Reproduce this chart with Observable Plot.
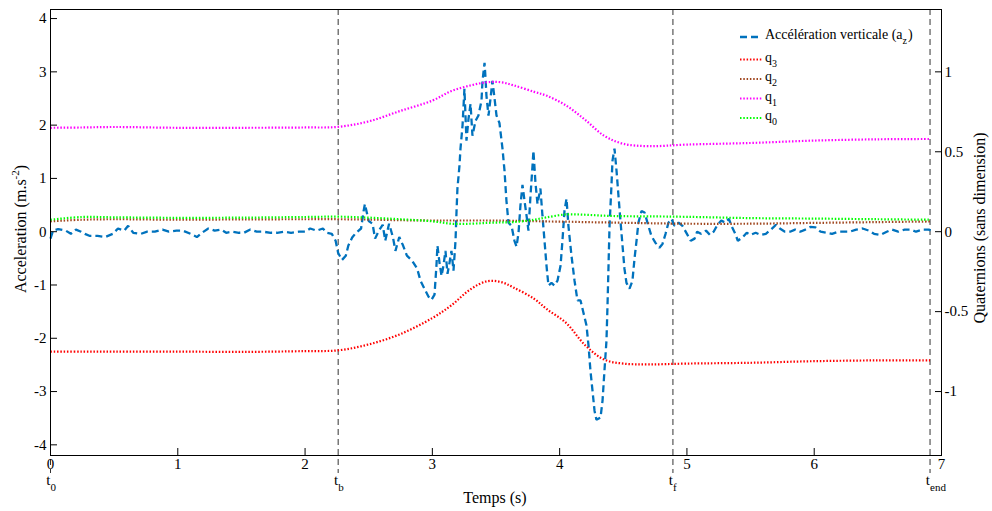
<!DOCTYPE html>
<html><head><meta charset="utf-8">
<script src="https://cdn.jsdelivr.net/npm/d3@7"></script>
<script src="https://cdn.jsdelivr.net/npm/@observablehq/plot@0.6"></script>
<style>
html,body{margin:0;padding:0;background:#fff;}
#chart svg{display:block;}
</style>
</head><body><div id="chart"></div>
<script>
// Vertical acceleration a_z (m.s^-2)
const time = [0,0.02,0.06,0.12,0.16,0.2,0.24,0.27,0.31,0.37,0.43,0.49,0.53,0.58,0.61,0.65,0.71,0.76,0.82,0.88,0.93,0.99,1.04,1.10,1.15,1.19,1.24,1.29,1.34,1.38,1.43,1.48,1.52,1.57,1.62,1.67,1.73,1.78,1.84,1.89,1.95,2.0,2.04,2.09,2.14,2.17,2.21,2.24,2.26,2.29,2.32,2.34,2.37,2.40,2.44,2.46,2.47,2.50,2.53,2.55,2.58,2.61,2.63,2.66,2.69,2.71,2.74,2.77,2.80,2.84,2.88,
  2.907,2.938,2.970,2.993,3.017,3.032,3.040,3.056,3.072,3.087,3.103,3.119,3.135,3.150,3.166,
  3.182,3.190,3.197,3.213,3.221,3.237,3.245,3.252,3.268,3.284,3.300,3.315,3.339,3.362,3.386,3.394,3.410,3.417,3.425,3.441,3.457,3.472,3.488,3.504,3.527,3.551,3.567,3.582,3.598,3.622,3.645,3.661,3.677,3.692,3.708,3.724,3.740,3.755,3.771,3.787,3.794,3.810,3.826,3.849,3.865,3.881,3.897,3.912,3.936,3.959,3.983,4.007,4.022,4.038,4.054,4.069,4.093,4.117,4.140,4.164,4.187,4.211,4.227,4.242,4.258,4.274,4.289,4.321,4.337,4.352,4.368,4.376,4.384,4.392,4.407,4.415,4.431,4.447,4.462,4.478,4.494,4.509,4.525,4.549,4.572,4.588,4.604,4.619,4.643,4.667,4.690,4.721,4.753,4.784,4.808,4.832,4.855,4.879,4.902,4.934,4.965,
  5.00,5.03,5.06,5.08,5.11,5.15,5.18,5.21,5.24,5.27,5.30,5.33,5.35,5.38,5.40,5.44,5.47,5.50,5.54,5.58,5.62,5.66,5.70,5.73,5.77,5.81,5.85,5.89,5.93,5.97,6.01,6.05,6.10,6.14,6.19,6.24,6.28,6.33,6.38,6.43,6.47,6.52,6.57,6.61,6.66,6.71,6.76,6.80,6.85,6.90,6.92];
const accel = [-0.13,0.02,0.05,0.02,-0.04,0.04,0.0,-0.04,-0.08,-0.08,-0.1,-0.04,0.06,0.02,0.11,-0.02,-0.04,0.0,0.0,0.04,0.0,0.02,0.02,-0.04,-0.1,-0.02,0.06,0.02,0.04,-0.02,0.0,-0.02,-0.02,0.04,0.0,0.0,-0.02,-0.02,0.0,-0.02,0.0,0.0,0.06,0.02,0.06,-0.02,-0.04,-0.17,-0.4,-0.53,-0.45,-0.26,-0.11,-0.02,0.06,0.39,0.52,0.2,0.15,-0.13,0.02,0.13,-0.17,0.15,-0.1,-0.36,-0.1,-0.26,-0.45,-0.54,-0.69,
  -0.92,-1.07,-1.22,-1.28,-1.18,-0.64,-0.26,-0.58,-0.83,-0.64,-0.36,-0.79,-0.58,-0.36,-0.73,
  -0.17,0.39,0.81,1.24,1.56,1.99,2.36,2.68,1.71,2.12,2.4,1.8,2.08,2.18,2.46,2.83,3.17,2.91,2.55,2.18,2.5,2.83,2.51,2.18,2.04,1.56,1.14,0.58,0.17,0.11,-0.17,-0.28,-0.02,0.49,0.88,0.58,0.3,0.02,0.68,1.24,1.52,0.92,0.52,0.81,0.3,-0.17,-0.64,-1.01,-0.96,-1.01,-0.92,-0.64,-0.17,0.39,0.62,0.11,-0.45,-0.92,-1.29,-1.29,-1.52,-1.76,-2.14,-2.61,-2.98,-3.36,-3.53,-3.49,-3.17,-2.61,-2.04,-1.39,-0.64,0.11,0.86,1.33,1.56,1.14,0.68,0.2,-0.26,-0.69,-0.96,-1.07,-0.92,-0.51,-0.17,0.17,0.39,0.36,0.17,-0.08,-0.21,-0.3,-0.23,-0.04,0.17,0.24,0.11,0.17,0.11,
  -0.04,-0.17,-0.13,0.0,-0.04,0.02,-0.06,0.0,0.13,0.21,0.17,0.24,0.11,-0.04,-0.17,-0.1,-0.02,-0.06,-0.02,-0.06,-0.04,0.04,0.13,0.06,0.0,0.0,0.04,0.0,0.04,0.09,0.08,0.0,-0.02,-0.04,0.0,0.0,0.0,0.04,0.06,0.02,-0.04,-0.06,0.0,0.04,0.0,0.04,0.04,0.0,0.04,0.04,0.02];

// Quaternions (dimensionless)
const qTime = [0,0.25,0.5,1,1.5,2,2.26,2.5,2.75,3.0,3.15,3.3,3.43,3.54,3.64,3.8,3.9,4.05,4.2,4.35,4.5,4.7,5.0,5.5,6.0,6.5,6.91];
const q0 = [0.075,0.092,0.09,0.087,0.088,0.092,0.094,0.088,0.078,0.065,0.05,0.05,0.055,0.058,0.06,0.075,0.09,0.108,0.106,0.1,0.097,0.096,0.093,0.085,0.082,0.078,0.075];
const q1 = [0.65,0.652,0.655,0.65,0.65,0.652,0.656,0.69,0.756,0.82,0.88,0.915,0.935,0.935,0.915,0.875,0.85,0.79,0.7,0.6,0.55,0.535,0.545,0.555,0.57,0.578,0.58];
const q2 = [0.065,0.075,0.078,0.075,0.077,0.078,0.078,0.076,0.072,0.07,0.07,0.07,0.07,0.069,0.068,0.066,0.064,0.063,0.06,0.058,0.056,0.053,0.05,0.05,0.055,0.06,0.064];
const q3 = [-0.75,-0.75,-0.75,-0.75,-0.752,-0.747,-0.742,-0.705,-0.64,-0.54,-0.46,-0.36,-0.31,-0.315,-0.35,-0.42,-0.485,-0.57,-0.71,-0.8,-0.825,-0.83,-0.825,-0.82,-0.81,-0.805,-0.805];

// Event markers
const markerTimes = [0, 2.26, 4.89, 6.91];
const markerSubs = ["0", "b", "f", "end"];

// Ticks
const xTicks = [0,1,2,3,4,5,6,7];
const yTicks = [-4,-3,-2,-1,0,1,2,3,4];
const qTicks = [-1,-0.5,0,0.5,1];
const qScale = 3; // right axis: 1 quaternion unit = 3 m.s^-2 on the left axis

const FONT = "'Liberation Serif', 'Times New Roman', serif";
const blue = "#0072BD";
const DOT = "1.5,1.8";
const DASH = "7,4";
const series = [
  {name: "q3", values: q3, color: "#ff0000"},
  {name: "q2", values: q2, color: "#a0461e"},
  {name: "q1", values: q1, color: "#ff00ff"},
  {name: "q0", values: q0, color: "#00ff00"}
];

const chart = Plot.plot({
  width: 992, height: 511,
  marginLeft: 50, marginRight: 51, marginTop: 9, marginBottom: 56,
  style: {fontFamily: FONT, fontSize: "15px", background: "#fff", color: "#000"},
  x: {domain: [0, 7]},
  y: {domain: [-4.2, 4.17]},
  marks: [
    Plot.ruleX(markerTimes, {x: d => d, stroke: "#333", strokeWidth: 1, strokeDasharray: "6,4", insetBottom: -18}),
    Plot.line(time, {x: time, y: accel, stroke: blue, strokeWidth: 2.3, strokeDasharray: DASH, strokeLinecap: "butt", strokeLinejoin: "miter"}),
    ...series.map(s => Plot.line(qTime, {x: qTime, y: s.values.map(v => v * qScale), stroke: s.color, strokeWidth: 2.2, strokeDasharray: DOT, strokeLinecap: "butt", curve: "catmull-rom"})),
    Plot.frame({stroke: "#000", strokeWidth: 1}),
    Plot.axisX({ticks: xTicks, tickSize: -7, tickPadding: 10, tickFormat: d => String(d), label: null, fontSize: 15}),
    Plot.axisY({anchor: "left", ticks: yTicks, tickSize: -7, tickPadding: 11, tickFormat: d => String(d), label: null, fontSize: 15}),
    Plot.axisY({anchor: "right", ticks: qTicks.map(q => q * qScale), tickSize: -7, tickPadding: 10, tickFormat: d => String(d / qScale), label: null, fontSize: 15}),
    Plot.text(markerTimes, {x: d => d, frameAnchor: "bottom", text: () => "t", textAnchor: "end", dx: 0, dy: 29, fontSize: 15}),
    Plot.text(markerTimes, {x: d => d, frameAnchor: "bottom", text: (d, i) => markerSubs[i], textAnchor: "start", dx: 0, dy: 35, fontSize: 11})
  ]
});
document.getElementById("chart").appendChild(chart);

// Axis titles and legend
const svg = d3.select(chart);
const g = svg.append("g").attr("font-family", FONT).attr("fill", "#000");

const tl = g.append("text").attr("transform", "translate(26,229) rotate(-90)").attr("text-anchor", "middle").attr("font-size", 16);
tl.append("tspan").text("Acceleration (m.s");
tl.append("tspan").attr("font-size", 11).attr("dy", -7).text("-2");
tl.append("tspan").attr("dy", 7).text(")");

g.append("text").attr("transform", "translate(985,228) rotate(-90)").attr("text-anchor", "middle").attr("font-size", 16)
  .text("Quaternions (sans dimension)");

g.append("text").attr("x", 495).attr("y", 503).attr("text-anchor", "middle").attr("font-size", 16).text("Temps (s)");

const legend = [
  {label: "Accélération verticale (a", sub: "z", tail: ")", color: blue, dash: DASH, width: 2.3},
  {label: "q", sub: "3", color: "#ff0000", dash: DOT, width: 2.2},
  {label: "q", sub: "2", color: "#a0461e", dash: DOT, width: 2.2},
  {label: "q", sub: "1", color: "#ff00ff", dash: DOT, width: 2.2},
  {label: "q", sub: "0", color: "#00ff00", dash: DOT, width: 2.2}
];
const legendY = [37, 59.5, 79, 98.5, 118];
legend.forEach((e, i) => {
  const y = legendY[i];
  g.append("line").attr("x1", 740).attr("x2", 762).attr("y1", y).attr("y2", y)
    .attr("stroke", e.color).attr("stroke-width", e.width).attr("stroke-dasharray", e.dash);
  const t = g.append("text").attr("x", 765).attr("y", y + 2).attr("font-size", 14).attr("text-anchor", "start");
  t.append("tspan").text(e.label);
  t.append("tspan").attr("font-size", 10).attr("dy", 5).text(e.sub);
  if (e.tail) t.append("tspan").attr("dy", -5).attr("dx", 1).text(e.tail);
});
</script>
</body></html>
